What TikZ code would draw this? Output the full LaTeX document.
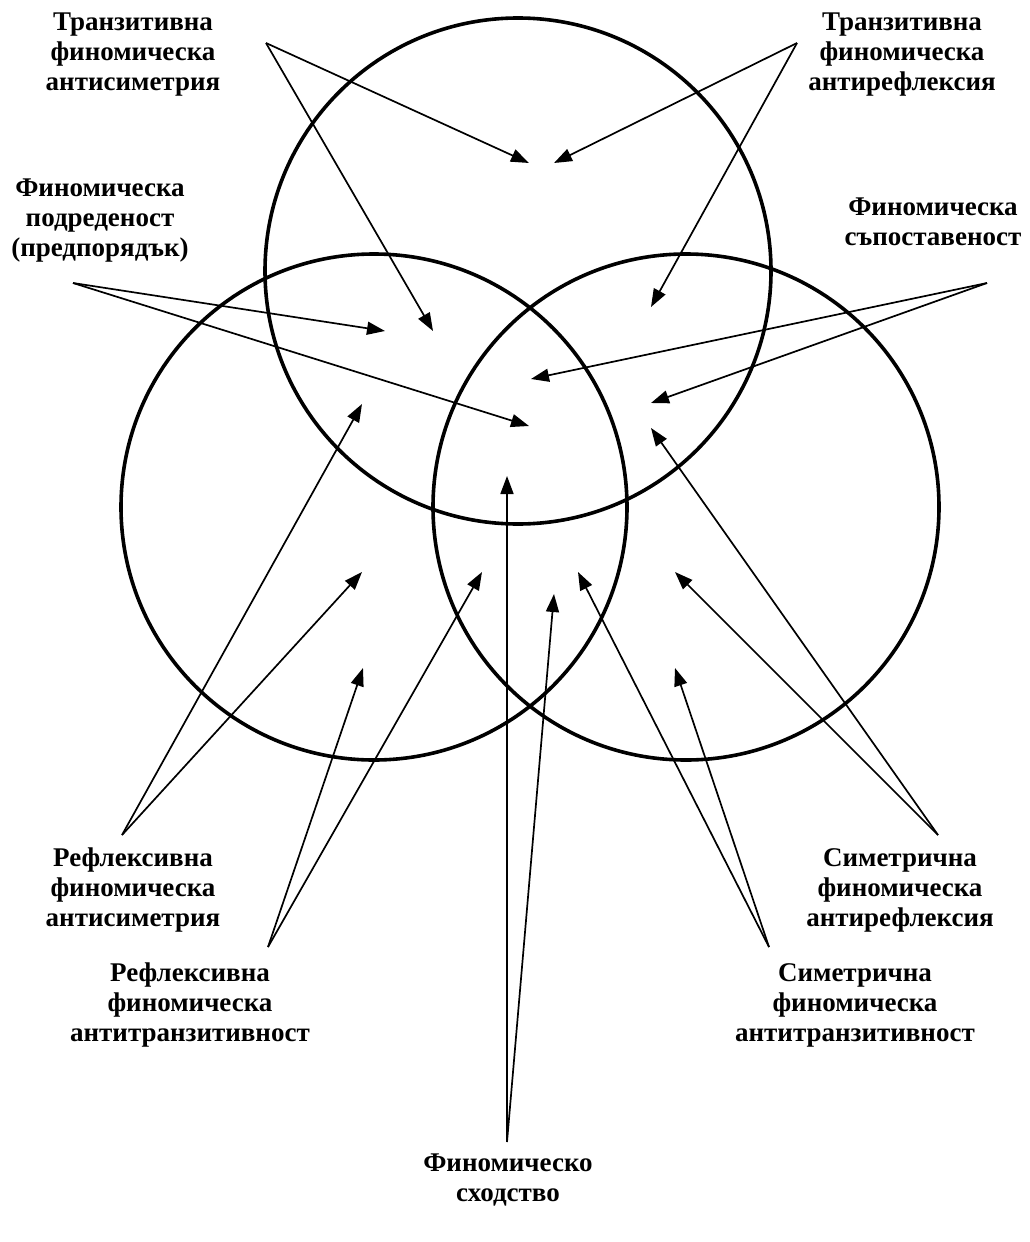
\documentclass[tikz,border=0pt]{standalone}
\usepackage{fontspec}
\setmainfont{Liberation Serif}
\usetikzlibrary{arrows.meta}
\begin{document}
\begin{tikzpicture}[x=1pt,y=-1pt,
  ring/.style={circle,draw,line width=3.6pt,minimum size=506pt,inner sep=0pt},
  pointer/.style={line width=1.7pt,-{Triangle[length=18pt,width=13pt]}},
  lbl/.style={font=\fontsize{27}{30}\selectfont\bfseries,align=center,inner sep=0pt}]
\useasboundingbox (0,0) rectangle (1030,1242);
% circles
\node[ring] (ctop) at (518,271) {};
\node[ring] (cleft) at (374,507) {};
\node[ring] (cright) at (686,507) {};
% labels
\node[lbl] (tfas) at (133,55) {Транзитивна\\финомическа\\антисиметрия};
\node[lbl] (tfar) at (902,55) {Транзитивна\\финомическа\\антирефлексия};
\node[lbl] (fpod) at (100,221) {Финомическа\\подреденост\\(предпорядък)};
\node[lbl] (fsap) at (933,222) {Финомическа\\съпоставеност};
\node[lbl] (rfas) at (133,890) {Рефлексивна\\финомическа\\антисиметрия};
\node[lbl] (rfat) at (190,1005) {Рефлексивна\\финомическа\\антитранзитивност};
\node[lbl] (fsh) at (508,1180) {Финомическо\\сходство};
\node[lbl] (sfat) at (855,1005) {Симетрична\\финомическа\\антитранзитивност};
\node[lbl] (sfar) at (900,890) {Симетрична\\финомическа\\антирефлексия};
% apex points
\coordinate (a1) at (266,43);
\coordinate (a2) at (797,43);
\coordinate (a3) at (73,283);
\coordinate (a4) at (987,283);
\coordinate (a5) at (122,835);
\coordinate (a6) at (268,947);
\coordinate (a7) at (507,1142);
\coordinate (a8) at (769,947);
\coordinate (a9) at (938,835);
% arrow tips
\coordinate (t1a) at (529,163);
\coordinate (t1b) at (433,331);
\coordinate (t2a) at (554,163);
\coordinate (t2b) at (651,307);
\coordinate (t3a) at (385,331);
\coordinate (t3b) at (529,426);
\coordinate (t4a) at (531,379);
\coordinate (t4b) at (651,403);
\coordinate (t5a) at (362,404);
\coordinate (t5b) at (362,572);
\coordinate (t6a) at (363,668);
\coordinate (t6b) at (482,572);
\coordinate (t7a) at (507,476);
\coordinate (t7b) at (554,594);
\coordinate (t8a) at (578,572);
\coordinate (t8b) at (675,668);
\coordinate (t9a) at (651,428);
\coordinate (t9b) at (675,572);
% arrows
\draw[pointer] (a1) -- (t1a);
\draw[pointer] (a1) -- (t1b);
\draw[pointer] (a2) -- (t2a);
\draw[pointer] (a2) -- (t2b);
\draw[pointer] (a3) -- (t3a);
\draw[pointer] (a3) -- (t3b);
\draw[pointer] (a4) -- (t4a);
\draw[pointer] (a4) -- (t4b);
\draw[pointer] (a5) -- (t5a);
\draw[pointer] (a5) -- (t5b);
\draw[pointer] (a6) -- (t6a);
\draw[pointer] (a6) -- (t6b);
\draw[pointer] (a7) -- (t7a);
\draw[pointer] (a7) -- (t7b);
\draw[pointer] (a8) -- (t8a);
\draw[pointer] (a8) -- (t8b);
\draw[pointer] (a9) -- (t9a);
\draw[pointer] (a9) -- (t9b);
\end{tikzpicture}
\end{document}
